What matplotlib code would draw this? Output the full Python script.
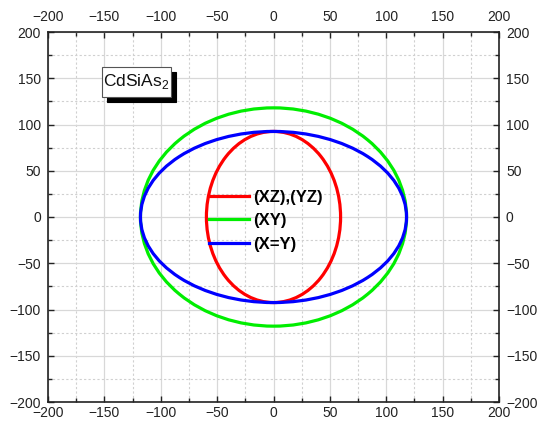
import matplotlib
matplotlib.use("Agg")
import matplotlib.pyplot as plt
from matplotlib.patches import Ellipse, Rectangle
from matplotlib.lines import Line2D
from matplotlib import transforms

plt.rcParams['font.family'] = ['Liberation Sans', 'DejaVu Sans']

# semi-axes (x, y) of each curve
labels = ['(XZ),(YZ)', '(XY)', '(X=Y)']
semi_x = [59.5, 118, 118]
semi_y = [92.5, 118, 92.5]
colors = ['#ff0000', '#00ee00', '#0000ff']

ticks = [-200, -150, -100, -50, 0, 50, 100, 150, 200]
compound = 'CdSiAs$_\\mathregular{2}$'

fig = plt.figure(figsize=(5.51, 4.25), dpi=100)
ax = fig.add_axes([48/551, 1 - 402/425, 451/551, 370/425])

for a, b, c in zip(semi_x, semi_y, colors):
    ax.add_patch(Ellipse((0, 0), 2*a, 2*b, fill=False, edgecolor=c, lw=2.3, zorder=3))

ax.set_xlim(-200, 200)
ax.set_ylim(-200, 200)
ax.set_xticks(ticks)
ax.set_yticks(ticks)
ax.set_xticks(range(-175, 200, 50), minor=True)
ax.set_yticks(range(-175, 200, 50), minor=True)

ax.grid(True, which='major', color='#d8d8d8', lw=0.9, ls='-')
ax.grid(True, which='minor', color='#d0d0d0', lw=0.8, ls=(0, (2, 2)))
ax.set_axisbelow(True)

ax.tick_params(which='both', direction='in', top=True, right=True,
               labeltop=True, labelright=True, width=1.0, color='#222222')
ax.tick_params(which='major', length=4.5, labelsize=10, labelcolor='#222222')
ax.tick_params(axis='y', which='major', pad=5)
ax.tick_params(axis='x', which='major', pad=3)
ax.tick_params(which='minor', length=3)
for s in ax.spines.values():
    s.set_linewidth(1.2)
    s.set_color('#222222')
# top labels sit a bit further from the frame
for t in ax.xaxis.get_major_ticks():
    t.label2.set_transform(t.label2.get_transform() +
                           transforms.ScaledTranslation(0, 4/100, fig.dpi_scale_trans))

handles = [Line2D([], [], color=c, lw=2.3) for c in colors]
leg = ax.legend(handles, labels, loc='center left', bbox_to_anchor=(0.358, 0.49),
                frameon=False, borderpad=0, borderaxespad=0, handlelength=2.35,
                handletextpad=0.3, labelspacing=0.5,
                prop={'weight': 'bold', 'size': 12})
leg.set_zorder(5)

# label box with a black drop shadow
shadow = transforms.offset_copy(ax.transData, fig=fig, x=5, y=-5, units='dots')
ax.add_patch(Rectangle((-152.1, 130), 61.2, 32.5, transform=shadow, fc='black',
                       ec='black', lw=0.8, zorder=6))
ax.add_patch(Rectangle((-152.1, 130), 61.2, 32.5, fc='white', ec='#555555',
                       lw=0.8, zorder=7))
ax.text(-121.5, 146.5, compound, fontsize=12.5, ha='center', va='center',
        color='#111111', zorder=8)

fig.savefig('out.png', dpi=100)
